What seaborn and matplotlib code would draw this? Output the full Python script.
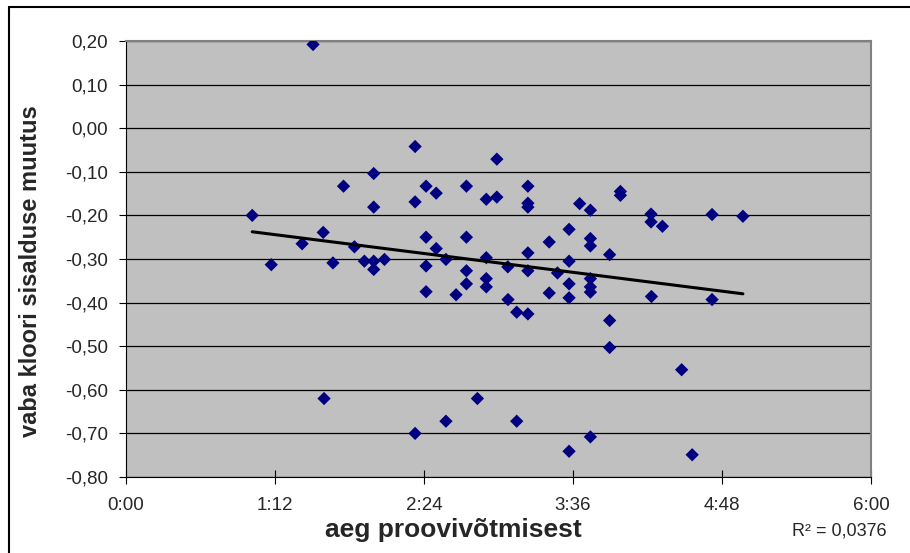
import numpy as np
import pandas as pd
import matplotlib
matplotlib.use("Agg")
import matplotlib.pyplot as plt
from matplotlib.ticker import FuncFormatter
from matplotlib.lines import Line2D
import seaborn as sns

# time since sampling, minutes
aeg_min = [61.0, 70.2, 85.1, 90.4, 95.3, 95.7, 100.0, 105.1, 110.4, 115.2,
           119.7, 119.7, 119.7, 119.7, 124.9, 139.7, 139.7, 139.7, 145.0, 145.0,
           145.0, 145.0, 149.9, 149.9, 154.6, 154.6, 159.5, 164.5, 164.5, 164.5,
           164.5, 169.8, 174.1, 174.1, 174.1, 174.1, 179.2, 179.2, 184.5, 184.6,
           188.8, 188.8, 194.2, 194.2, 194.2, 194.2, 194.2, 194.2, 204.5, 204.5,
           208.5, 214.1, 214.1, 214.1, 214.1, 214.1, 219.2, 224.4, 224.4, 224.4,
           224.4, 224.4, 224.4, 224.4, 233.7, 233.7, 233.7, 238.9, 238.9, 253.7,
           253.7, 253.9, 259.2, 268.5, 273.6, 283.2, 283.2, 298.1]
# change of free chlorine content
muutus = [-0.200, -0.313, -0.265, 0.192, -0.239, -0.620, -0.309, -0.133, -0.272, -0.305,
          -0.104, -0.181, -0.305, -0.324, -0.301, -0.042, -0.169, -0.700, -0.133, -0.250,
          -0.316, -0.375, -0.149, -0.276, -0.301, -0.672, -0.382, -0.133, -0.250, -0.327,
          -0.357, -0.620, -0.163, -0.297, -0.345, -0.364, -0.071, -0.158, -0.318, -0.393,
          -0.422, -0.672, -0.133, -0.172, -0.181, -0.286, -0.327, -0.426, -0.261, -0.378,
          -0.332, -0.232, -0.305, -0.357, -0.389, -0.741, -0.173, -0.188, -0.253, -0.270,
          -0.345, -0.364, -0.376, -0.708, -0.290, -0.441, -0.503, -0.145, -0.154, -0.197,
          -0.215, -0.386, -0.225, -0.554, -0.749, -0.198, -0.393, -0.202]

x_ticks = [0, 72, 144, 216, 288, 360]
y_ticks = [0.2, 0.1, 0.0, -0.1, -0.2, -0.3, -0.4, -0.5, -0.6, -0.7, -0.8]
r2_text = "R² = 0,0376"

df = pd.DataFrame({"aeg": aeg_min, "muutus": muutus})

sns.set_style("white")
plt.rcParams['font.family'] = ['Liberation Sans', 'DejaVu Sans']

fig = plt.figure(figsize=(9.10, 5.53), dpi=100)
ax = fig.add_axes([126 / 910, 1 - 477 / 553, (871 - 126) / 910, (477 - 41) / 553])
ax.set_facecolor("#C0C0C0")

for y in y_ticks:
    ax.axhline(y, color="black", lw=0.9, zorder=1)

sns.scatterplot(data=df, x="aeg", y="muutus", marker="D", s=46, color="#000080",
                edgecolor="none", ax=ax, zorder=3)
sns.regplot(data=df, x="aeg", y="muutus", scatter=False, ci=None, truncate=True,
            line_kws={"color": "black", "lw": 2.2, "zorder": 4}, ax=ax)

ax.set_xlim(0, 360)
ax.set_ylim(-0.8, 0.2)
ax.set_xticks(x_ticks)
ax.set_yticks(y_ticks)
ax.xaxis.set_major_formatter(FuncFormatter(lambda v, p: f"{int(v) // 60}:{int(v) % 60:02d}"))
ax.yaxis.set_major_formatter(FuncFormatter(lambda v, p: f"{v:.2f}".replace(".", ",")))
ax.tick_params(axis="x", direction="inout", length=9.5, width=0.8, color="black",
               pad=10, labelsize=13.5, bottom=True)
ax.tick_params(axis="y", direction="out", length=5, width=0.8, color="black",
               pad=8, labelsize=13.5, left=True)

for sp in ax.spines.values():
    sp.set_color("#808080")
    sp.set_linewidth(1.5)
ax.spines["left"].set_color("black")
ax.spines["left"].set_linewidth(0.8)
ax.spines["bottom"].set_color("black")
ax.spines["bottom"].set_linewidth(0.8)

ax.set_xlabel("")
ax.set_ylabel("")
fig.text(453 / 910, 1 - 530 / 553, "aeg proovivõtmisest", ha="center", va="center",
         fontsize=19, fontweight="bold")
fig.text(31 / 910, 1 - 271 / 553, "vaba kloori sisalduse muutus", ha="center", va="center",
         rotation=90, fontsize=17, fontweight="bold")
fig.text(887 / 910, 1 - 531 / 553, r2_text, ha="right", va="center", fontsize=13)

# chart area border (top and left visible)
fig.add_artist(Line2D([9 / 910, 1], [1 - 7 / 553, 1 - 7 / 553], color="black", lw=1.5,
                      transform=fig.transFigure))
fig.add_artist(Line2D([9 / 910, 9 / 910], [0, 1 - 7 / 553], color="black", lw=1.5,
                      transform=fig.transFigure))

fig.savefig("out.png", dpi=100)
